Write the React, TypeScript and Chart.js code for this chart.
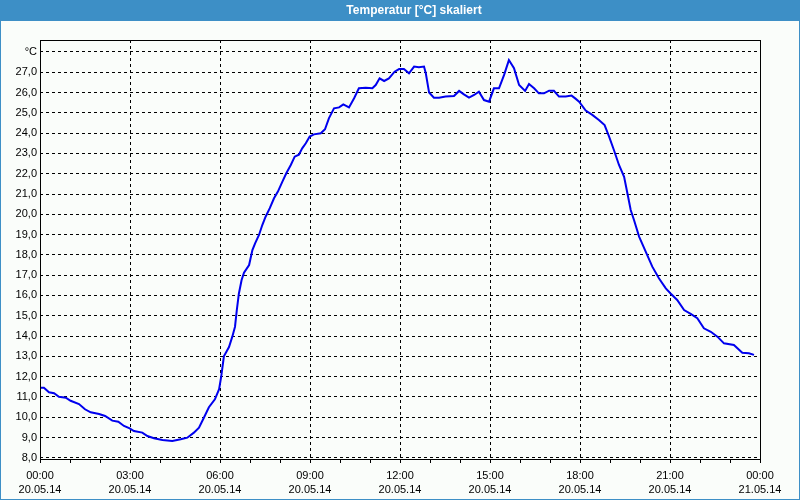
import React, { useEffect, useRef } from "react";
import { Chart, registerables } from "chart.js";

Chart.register(...registerables);

const TITLE = "Temperatur [°C] skaliert";
const UNIT_LABEL = "°C";

// time in hours since 20.05.14 00:00
const hours = [
  0, 0.13, 0.3, 0.47, 0.63, 0.86, 1.02, 1.3, 1.5, 1.69, 1.97, 2.17, 2.41, 2.61, 2.8, 2.99,
  3.13, 3.41, 3.58, 3.8, 4.08, 4.41, 4.69, 4.91, 5.13, 5.3, 5.47, 5.63, 5.83, 5.97,
  6.04, 6.13, 6.3, 6.41, 6.5, 6.56, 6.63, 6.72, 6.8, 6.97, 7.08, 7.17, 7.3, 7.41, 7.52,
  7.66, 7.8, 7.93, 8.08, 8.21, 8.36, 8.49, 8.63, 8.74, 8.86, 8.99, 9.13, 9.36, 9.5,
  9.63, 9.8, 9.97, 10.11, 10.3, 10.47, 10.63, 10.86, 11.08, 11.19, 11.32, 11.47, 11.63,
  11.82, 11.97, 12.13, 12.3, 12.47, 12.63, 12.8, 12.86, 12.97, 13.13, 13.3, 13.52, 13.8,
  13.97, 14.13, 14.3, 14.47, 14.63, 14.8, 14.97, 15.13, 15.3, 15.47, 15.63, 15.8, 15.97,
  16.17, 16.3, 16.47, 16.63, 16.8, 16.97, 17.13, 17.3, 17.52, 17.72, 17.85, 17.97, 18.19,
  18.41, 18.63, 18.82, 18.97, 19.13, 19.3, 19.47, 19.58, 19.69, 19.8, 19.97, 20.19,
  20.41, 20.63, 20.86, 21.02, 21.24, 21.47, 21.69, 21.91, 22.13, 22.36, 22.58, 22.8,
  23.13, 23.41, 23.63, 23.8,
];

const temps = [
  11.45, 11.45, 11.23, 11.18, 11.01, 10.96, 10.81, 10.65, 10.39, 10.24, 10.16, 10.06, 9.83, 9.78, 9.57, 9.45,
  9.32, 9.24, 9.07, 8.96, 8.88, 8.83, 8.91, 8.99, 9.24, 9.48, 10.0, 10.49, 10.88, 11.38,
  12.0, 13.0, 13.46, 13.97, 14.46, 15.28, 16.1, 16.76, 17.12, 17.5, 18.24, 18.57, 18.98, 19.47, 19.88,
  20.3, 20.79, 21.12, 21.61, 22.02, 22.43, 22.84, 22.94, 23.25, 23.5, 23.83, 23.94, 23.99, 24.19,
  24.73, 25.22, 25.27, 25.42, 25.27, 25.72, 26.21, 26.24, 26.21, 26.37, 26.7, 26.57, 26.7,
  27.03, 27.16, 27.16, 26.95, 27.28, 27.25, 27.28, 26.95, 26.0, 25.75, 25.75, 25.8, 25.83,
  26.08, 25.91, 25.75, 25.88, 26.04, 25.63, 25.55, 26.21, 26.21, 26.87, 27.6, 27.2, 26.37,
  26.08, 26.42, 26.21, 25.96, 25.96, 26.09, 26.09, 25.8, 25.8, 25.85, 25.7, 25.55, 25.11,
  24.9, 24.65, 24.4, 23.83, 23.17, 22.43, 21.85, 21.04, 20.21, 19.72, 18.9, 18.16,
  17.42, 16.85, 16.35, 16.1, 15.78, 15.28, 15.09, 14.88, 14.38, 14.21, 13.97, 13.64,
  13.56, 13.18, 13.15, 13.07,
];

const yTicks = [8, 9, 10, 11, 12, 13, 14, 15, 16, 17, 18, 19, 20, 21, 22, 23, 24, 25, 26, 27, 28];
const xTickHours = [0, 1, 2, 3, 4, 5, 6, 7, 8, 9, 10, 11, 12, 13, 14, 15, 16, 17, 18, 19, 20, 21, 22, 23, 24];
const majorHours = [0, 3, 6, 9, 12, 15, 18, 21, 24];
const majorTimes = ["00:00", "03:00", "06:00", "09:00", "12:00", "15:00", "18:00", "21:00", "00:00"];
const majorDates = ["20.05.14", "20.05.14", "20.05.14", "20.05.14", "20.05.14", "20.05.14", "20.05.14", "20.05.14", "21.05.14"];

const FONT = '"Liberation Sans", Arial, sans-serif';

const framePlugin = {
  id: "frame",
  beforeDraw(chart: any) {
    const { ctx, width, height } = chart;
    ctx.save();
    ctx.fillStyle = "#3d8fc6";
    ctx.fillRect(0, 0, width, height);
    ctx.fillStyle = "#fafdfa";
    ctx.fillRect(1, 21, width - 2, height - 22);
    ctx.fillStyle = "#ffffff";
    ctx.font = `bold 12px ${FONT}`;
    ctx.textAlign = "center";
    ctx.textBaseline = "middle";
    ctx.fillText(TITLE, 414, 10.5);
    ctx.restore();
  },
  afterDraw(chart: any) {
    const { ctx, chartArea } = chart;
    ctx.save();
    ctx.strokeStyle = "#000000";
    ctx.lineWidth = 1;
    ctx.setLineDash([]);
    ctx.strokeRect(
      Math.round(chartArea.left) + 0.5,
      Math.round(chartArea.top) + 0.5,
      Math.round(chartArea.right - chartArea.left),
      Math.round(chartArea.bottom - chartArea.top)
    );
    ctx.restore();
  },
};

export default function App() {
  const ref = useRef<HTMLCanvasElement | null>(null);

  useEffect(() => {
    document.body.style.margin = "0";
    if (!ref.current) return;
    const chart = new Chart(ref.current, {
      type: "line",
      data: {
        datasets: [
          {
            data: hours.map((h, i) => ({ x: h, y: temps[i] })),
            borderColor: "#0000ee",
            borderWidth: 2,
            pointRadius: 0,
            tension: 0,
            fill: false,
          },
        ],
      },
      options: {
        animation: false,
        responsive: false,
        devicePixelRatio: 1,
        layout: { padding: { top: 40, right: 40, bottom: 0, left: 0 } },
        plugins: {
          legend: { display: false },
          title: { display: false },
          tooltip: { enabled: false },
        },
        scales: {
          x: {
            type: "linear",
            min: 0,
            max: 24,
            afterBuildTicks: (scale: any) => {
              scale.ticks = xTickHours.map((v) => ({ value: v }));
            },
            afterFit: (scale: any) => {
              scale.height = 41;
            },
            border: { display: false, dash: [3, 3] },
            grid: {
              color: (ctx: any) =>
                ctx.tick && majorHours.includes(ctx.tick.value) ? "#000000" : "rgba(0,0,0,0)",
              tickColor: "#000000",
              tickLength: 4,
              tickBorderDash: [],
              lineWidth: 1,
            },
            ticks: {
              autoSkip: false,
              maxRotation: 0,
              padding: 6,
              color: "#000000",
              font: { family: FONT, size: 11, lineHeight: 14 / 11 },
              callback: (value: any) => {
                const idx = majorHours.indexOf(Number(value));
                return idx >= 0 ? [majorTimes[idx], majorDates[idx]] : "";
              },
            },
          },
          y: {
            type: "linear",
            min: 7.94,
            max: 28.59,
            afterBuildTicks: (scale: any) => {
              scale.ticks = yTicks.map((v) => ({ value: v }));
            },
            afterFit: (scale: any) => {
              scale.width = 40;
            },
            border: { display: false, dash: [3, 3] },
            grid: {
              color: "#000000",
              lineWidth: 1,
              drawTicks: false,
            },
            ticks: {
              padding: 3,
              color: "#000000",
              font: { family: FONT, size: 11 },
              callback: (value: any) =>
                Number(value) === 28 ? UNIT_LABEL : Number(value).toFixed(1).replace(".", ","),
            },
          },
        },
      },
      plugins: [framePlugin],
    });
    return () => chart.destroy();
  }, []);

  return (
    <div style={{ width: 800, height: 500 }}>
      <canvas ref={ref} width={800} height={500} style={{ display: "block" }} />
    </div>
  );
}
